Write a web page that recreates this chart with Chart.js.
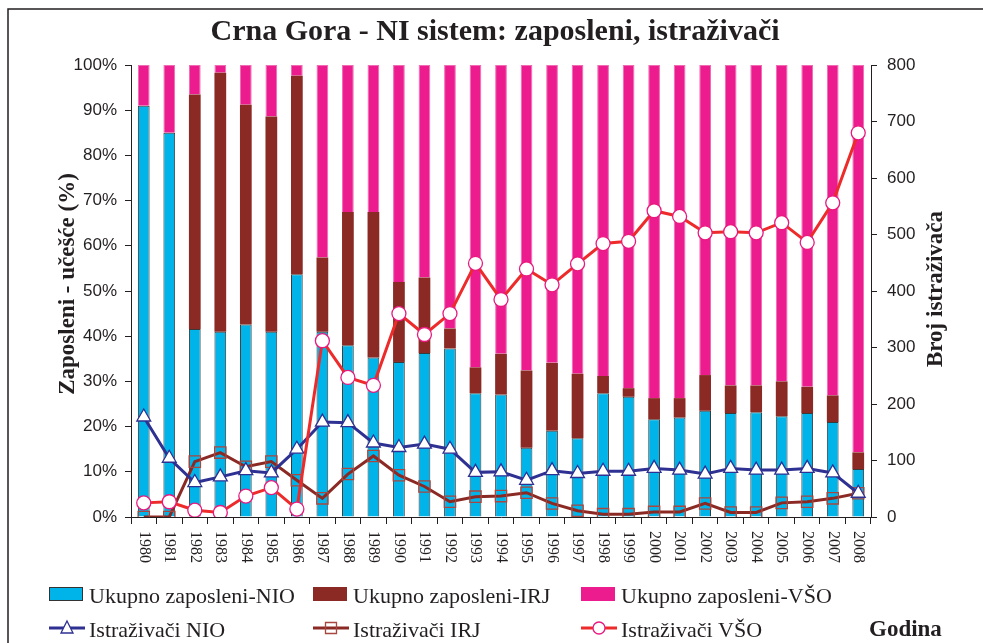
<!DOCTYPE html>
<html>
<head>
<meta charset="utf-8">
<script src="https://cdn.jsdelivr.net/npm/chart.js@4.4.1/dist/chart.umd.min.js"></script>
<style>
  html, body { margin:0; padding:0; background:#fff; }
  canvas { display:block; }
</style>
</head>
<body>
<canvas id="grafik" width="983" height="643"></canvas>
<script>
// godine
const godine = ["1980","1981","1982","1983","1984","1985","1986","1987","1988","1989","1990","1991","1992","1993","1994","1995","1996","1997","1998","1999","2000","2001","2002","2003","2004","2005","2006","2007","2008"];

// ucesce zaposlenih (%)
const zapNIO = [91,85,41.6,41,42.6,41,53.7,41,38,35.3,34.3,36.3,37.3,27.4,27.1,15.3,19.1,17.4,27.4,26.6,21.6,22,23.5,23,23.2,22.3,23,21,10.6];
const zapIRJ = [0,0,51.9,57.3,48.6,47.6,43.9,16.4,29.5,32.2,17.7,16.7,4.4,5.7,9,17.1,15,14.3,3.8,1.9,4.7,4.3,7.9,6.1,5.9,7.7,5.8,5.9,3.7];
const zapVSO = [9,15,6.5,1.7,8.8,11.4,2.4,42.6,32.5,32.5,48,47,58.3,66.9,63.9,67.6,65.9,68.3,68.8,71.5,73.7,73.7,68.6,70.9,70.9,70,71.2,73.1,85.7];

// broj istrazivaca
const istNIO = [177,104,61,71,82,78,120,168,167,131,123,129,120,79,80,65,82,77,81,81,86,83,76,86,83,83,86,78,42];
const istIRJ = [0,0,98,114,89,98,65,33,76,108,74,54,27,36,37,43,24,11,5,5,9,9,24,8,8,25,27,33,42];
const istVSO = [25,27,12,8,37,52,14,312,247,233,360,323,360,449,385,439,411,448,484,488,542,532,503,505,503,521,486,556,680];

const lijeviTikovi = [0,10,20,30,40,50,60,70,80,90,100];
const desniTikovi = [0,100,200,300,400,500,600,700,800];

const PLAVA = "#00b4e9";
const SMEDJA = "#8b2a24";
const ROZE = "#ec1c8e";
const TEGET = "#2e3192";
const CRVENA = "#ee2b2b";

const serif = "'Liberation Serif', 'Times New Roman', serif";
const sans = "'Liberation Sans', Arial, sans-serif";

// crtanje naslova, legende i godina
const dodaci = {
    id: "dodaci",
    afterDraw(chart){
        const c = chart.ctx;
        c.save();
        c.fillStyle = "#231f20";
        c.strokeStyle = "#231f20";

        // okvir
        c.lineWidth = 1.5;
        c.beginPath();
        c.moveTo(8, 643); c.lineTo(8, 9); c.lineTo(983, 9);
        c.stroke();

        // naslov
        c.font = "bold 30px " + serif;
        c.textAlign = "center";
        c.textBaseline = "alphabetic";
        c.fillText("Crna Gora - NI sistem: zaposleni, istraživači", 495, 40);

        // naslovi osa
        c.font = "bold 23px " + serif;
        c.save();
        c.translate(74, 284);
        c.rotate(-Math.PI/2);
        c.fillText("Zaposleni - učešće (%)", 0, 0);
        c.restore();
        c.save();
        c.translate(942, 289);
        c.rotate(-Math.PI/2);
        c.fillText("Broj istraživača", 0, 0);
        c.restore();

        // godine
        const xs = chart.scales.x;
        c.font = "16px " + serif;
        c.textAlign = "left";
        c.textBaseline = "middle";
        godine.forEach((g, i) => {
            c.save();
            c.translate(xs.getPixelForValue(i), 531);
            c.rotate(Math.PI/2);
            c.fillText(g, 0, 0);
            c.restore();
        });

        // legenda - stubici
        c.font = "22px " + serif;
        c.textBaseline = "alphabetic";
        const red1 = [
            {x:49, boja:PLAVA, ivica:"#333", tekst:"Ukupno zaposleni-NIO"},
            {x:313, boja:SMEDJA, ivica:SMEDJA, tekst:"Ukupno zaposleni-IRJ"},
            {x:581, boja:ROZE, ivica:ROZE, tekst:"Ukupno zaposleni-VŠO"}
        ];
        red1.forEach(s => {
            c.fillStyle = s.boja;
            c.fillRect(s.x, 587, 34, 14);
            c.lineWidth = 1;
            c.strokeStyle = s.ivica;
            c.strokeRect(s.x + 0.5, 587.5, 33, 13);
            c.fillStyle = "#231f20";
            c.fillText(s.tekst, s.x + 40, 603);
        });

        // legenda - linije
        const red2 = [
            {x:49, boja:TEGET, tekst:"Istraživači NIO", oblik:"trougao", ivica:TEGET},
            {x:313, boja:SMEDJA, tekst:"Istraživači IRJ", oblik:"kvadrat", ivica:"#a8473f"},
            {x:581, boja:CRVENA, tekst:"Istraživači VŠO", oblik:"krug", ivica:"#e8197f"}
        ];
        red2.forEach(s => {
            const y = 628;
            c.strokeStyle = s.boja;
            c.lineWidth = 3;
            c.beginPath();
            c.moveTo(s.x, y); c.lineTo(s.x + 36, y);
            c.stroke();
            const cx = s.x + 18;
            c.lineWidth = 1.3;
            c.strokeStyle = s.ivica;
            c.fillStyle = "#fff";
            c.beginPath();
            if (s.oblik === "trougao") {
                c.moveTo(cx, y - 7); c.lineTo(cx + 6, y + 5); c.lineTo(cx - 6, y + 5); c.closePath();
                c.fill(); c.stroke();
            } else if (s.oblik === "kvadrat") {
                c.rect(cx - 5.5, y - 5.5, 11, 11);
                c.stroke();
            } else {
                c.arc(cx, y, 6, 0, Math.PI*2);
                c.fill(); c.stroke();
            }
            c.fillStyle = "#231f20";
            c.fillText(s.tekst, s.x + 40, 637);
        });

        c.font = "bold 23px " + serif;
        c.fillText("Godina", 869, 636);
        c.restore();
    }
};

new Chart(document.getElementById("grafik").getContext("2d"), {
    data: {
        labels: godine,
        datasets: [
            {type:"line", label:"Istraživači VŠO", data:istVSO, yAxisID:"y1", order:1,
             borderColor:CRVENA, borderWidth:3, tension:0,
             pointStyle:"circle", pointRadius:7, pointBackgroundColor:"#fff",
             pointBorderColor:"#e8197f", pointBorderWidth:1.3},
            {type:"line", label:"Istraživači NIO", data:istNIO, yAxisID:"y1", order:1,
             borderColor:TEGET, borderWidth:3, tension:0,
             pointStyle:"triangle", pointRadius:8, pointBackgroundColor:"#fff",
             pointBorderColor:TEGET, pointBorderWidth:1.3},
            {type:"line", label:"Istraživači IRJ", data:istIRJ, yAxisID:"y1", order:1,
             borderColor:SMEDJA, borderWidth:3, tension:0,
             pointStyle:"rect", pointRadius:8, pointBackgroundColor:"rgba(0,0,0,0)",
             pointBorderColor:"#a8473f", pointBorderWidth:1.3},
            {type:"bar", label:"Ukupno zaposleni-NIO", data:zapNIO, yAxisID:"y", order:2,
             backgroundColor:PLAVA, borderColor:"#3a3a3a", borderWidth:1, borderSkipped:"bottom"},
            {type:"bar", label:"Ukupno zaposleni-IRJ", data:zapIRJ, yAxisID:"y", order:2,
             backgroundColor:SMEDJA, borderColor:SMEDJA, borderWidth:0},
            {type:"bar", label:"Ukupno zaposleni-VŠO", data:zapVSO, yAxisID:"y", order:2,
             backgroundColor:ROZE, borderColor:"#f06ab4", borderWidth:1, borderSkipped:"bottom"}
        ]
    },
    options: {
        responsive: false,
        animation: false,
        layout: { padding: { top:65, left:0, right:0, bottom:0 } },
        datasets: { bar: { barPercentage:0.46, categoryPercentage:1 } },
        plugins: { legend:{display:false}, tooltip:{enabled:false}, title:{display:false} },
        scales: {
            x: {
                stacked: true,
                grid: { drawOnChartArea:false, drawTicks:true, tickLength:7, color:"#231f20", offset:true },
                border: { color:"#231f20", width:1 },
                ticks: { display:false },
                afterFit(s){ s.height = 126; }
            },
            y: {
                stacked: true,
                position: "left",
                min: 0, max: 100,
                afterBuildTicks(s){ s.ticks = lijeviTikovi.map(v => ({value:v})); },
                ticks: { callback: v => v + "%", font:{family:sans, size:17}, color:"#231f20", padding:8 },
                grid: { drawOnChartArea:false, tickLength:6, color:"#231f20" },
                border: { color:"#231f20", width:1 },
                afterFit(s){ s.width = 131; }
            },
            y1: {
                position: "right",
                min: 0, max: 800,
                afterBuildTicks(s){ s.ticks = desniTikovi.map(v => ({value:v})); },
                ticks: { font:{family:sans, size:17}, color:"#231f20", padding:10 },
                grid: { drawOnChartArea:false, tickLength:6, color:"#231f20" },
                border: { color:"#231f20", width:1 },
                afterFit(s){ s.width = 112; }
            }
        }
    },
    plugins: [dodaci]
});
</script>
</body>
</html>
